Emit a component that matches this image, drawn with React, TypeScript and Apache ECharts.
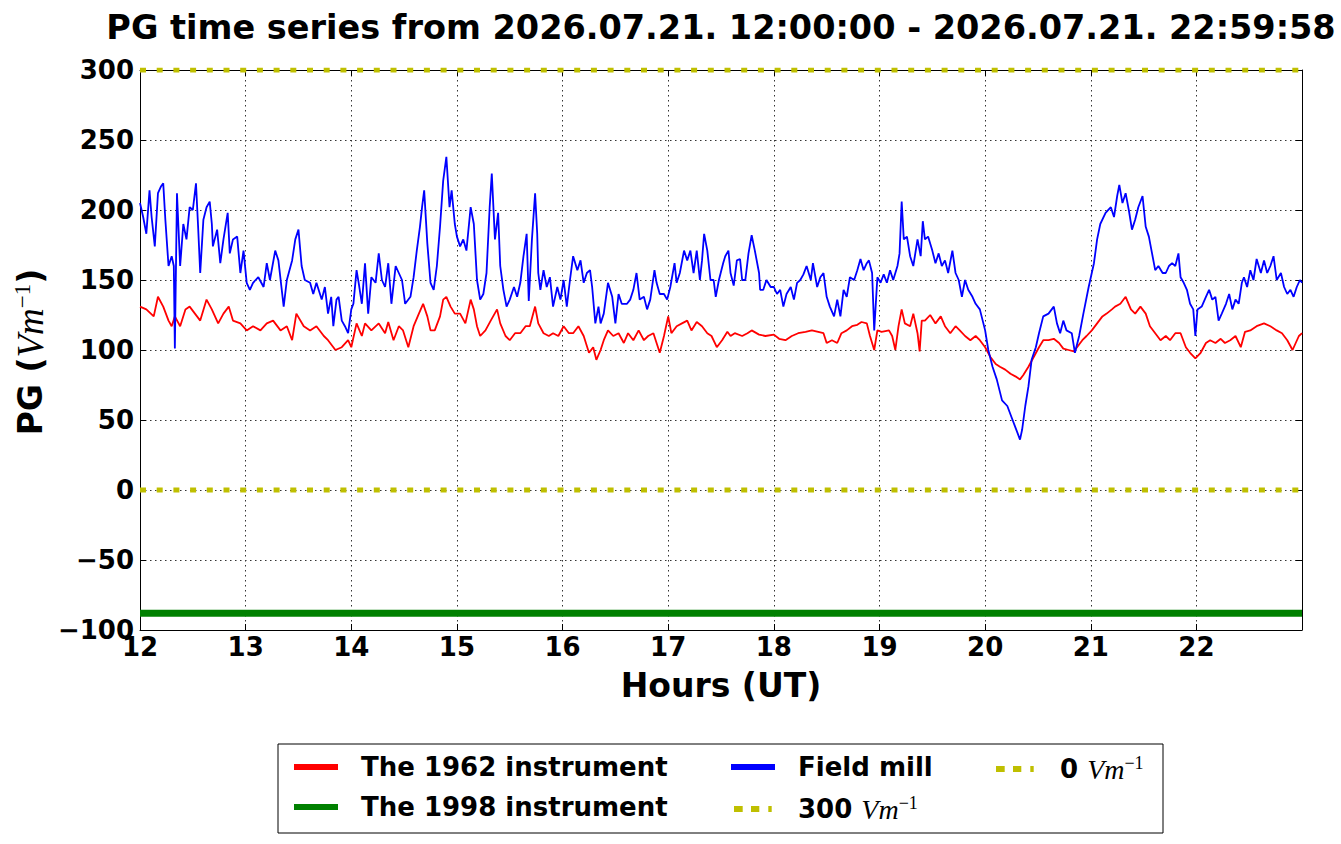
import React, { useEffect, useRef } from "react";
import * as echarts from "echarts";

// ---------- data ----------
const T_START = 12;
const T_END = 22 + 3598 / 3600; // 22:59:58
const yTicks = { min: -100, max: 300, step: 50 };
const instrument1998Level = -88;
const refLevelHigh = 300;
const refLevelZero = 0;

// The 1962 instrument: [hour UT, PG]
const instrument1962: [number, number][] = [
  [12.0, 131], [12.06, 129], [12.13, 124], [12.17, 138], [12.22, 131], [12.27, 121], [12.3, 117], [12.33, 124],
  [12.38, 117], [12.43, 129], [12.47, 131], [12.52, 126], [12.57, 121], [12.63, 136], [12.68, 129], [12.74, 119],
  [12.79, 126], [12.84, 131], [12.88, 121], [12.95, 119], [13.01, 114], [13.07, 117], [13.14, 114], [13.2, 119],
  [13.26, 121], [13.33, 114], [13.39, 117], [13.44, 107], [13.48, 126], [13.55, 117], [13.61, 114], [13.67, 117],
  [13.74, 110], [13.78, 107], [13.85, 100], [13.91, 102], [13.97, 107], [14.0, 102], [14.05, 119], [14.1, 110],
  [14.13, 119], [14.19, 114], [14.26, 119], [14.32, 112], [14.35, 120], [14.4, 107], [14.45, 117], [14.49, 114],
  [14.54, 102], [14.59, 117], [14.64, 126], [14.68, 133], [14.72, 124], [14.75, 114], [14.79, 114], [14.84, 124],
  [14.87, 136], [14.9, 138], [14.94, 131], [14.98, 126], [15.03, 126], [15.08, 119], [15.13, 136], [15.16, 129],
  [15.19, 117], [15.22, 110], [15.27, 114], [15.32, 121], [15.38, 129], [15.41, 119], [15.46, 110], [15.5, 107],
  [15.55, 112], [15.6, 112], [15.65, 117], [15.69, 117], [15.74, 131], [15.77, 119], [15.82, 112], [15.87, 110],
  [15.91, 112], [15.96, 110], [16.01, 117], [16.06, 112], [16.1, 112], [16.15, 117], [16.2, 110], [16.25, 98],
  [16.29, 102], [16.32, 93], [16.36, 100], [16.39, 107], [16.43, 114], [16.48, 110], [16.53, 112], [16.58, 105],
  [16.62, 112], [16.67, 107], [16.72, 114], [16.77, 107], [16.81, 110], [16.86, 112], [16.92, 98], [16.96, 110],
  [17.0, 124], [17.03, 112], [17.08, 117], [17.13, 119], [17.18, 121], [17.22, 114], [17.27, 120], [17.32, 117],
  [17.37, 112], [17.41, 110], [17.46, 102], [17.51, 107], [17.56, 113], [17.59, 110], [17.63, 112], [17.7, 110],
  [17.75, 112], [17.79, 114], [17.86, 111], [17.92, 110], [18.0, 111], [18.05, 108], [18.11, 107], [18.17, 110],
  [18.23, 112], [18.3, 113], [18.36, 114], [18.42, 113], [18.47, 112], [18.5, 105], [18.55, 107], [18.6, 105],
  [18.64, 112], [18.69, 114], [18.74, 117], [18.79, 118], [18.83, 120], [18.88, 119], [18.91, 110], [18.95, 100],
  [18.98, 114], [19.02, 113], [19.09, 114], [19.12, 110], [19.15, 100], [19.18, 117], [19.21, 129], [19.24, 119],
  [19.29, 117], [19.32, 126], [19.36, 112], [19.38, 99], [19.4, 121], [19.43, 121], [19.48, 125], [19.53, 119],
  [19.58, 124], [19.62, 117], [19.67, 112], [19.72, 117], [19.76, 114], [19.81, 110], [19.86, 107], [19.91, 110],
  [19.95, 107], [20.0, 102], [20.05, 95], [20.1, 90], [20.14, 88], [20.19, 86], [20.24, 83], [20.29, 81],
  [20.33, 79], [20.36, 82], [20.41, 88], [20.46, 95], [20.51, 102], [20.55, 107], [20.6, 107], [20.65, 108],
  [20.7, 105], [20.74, 101], [20.79, 100], [20.84, 99], [20.87, 102], [20.92, 107], [20.96, 110], [21.01, 114],
  [21.06, 119], [21.11, 124], [21.15, 126], [21.2, 129], [21.23, 131], [21.28, 133], [21.33, 138], [21.38, 129],
  [21.42, 126], [21.47, 131], [21.52, 126], [21.56, 117], [21.61, 112], [21.66, 107], [21.71, 110], [21.75, 107],
  [21.8, 112], [21.85, 112], [21.9, 102], [21.94, 98], [21.99, 94], [22.04, 98], [22.09, 105], [22.13, 107],
  [22.18, 105], [22.23, 108], [22.27, 105], [22.32, 107], [22.37, 110], [22.42, 102], [22.46, 113], [22.51, 114],
  [22.57, 117], [22.64, 119], [22.7, 117], [22.76, 114], [22.81, 112], [22.86, 107], [22.91, 100], [22.94, 105],
  [22.97, 110], [23.0, 112],
];

// Field mill: [hour UT, PG]
const fieldMill: [number, number][] = [
  [12.0, 205], [12.03, 195], [12.06, 183], [12.09, 214], [12.11, 195], [12.14, 174], [12.17, 212], [12.2, 217],
  [12.22, 219], [12.24, 193], [12.27, 160], [12.3, 167], [12.32, 160], [12.33, 101], [12.35, 212], [12.38, 160],
  [12.41, 190], [12.44, 179], [12.47, 202], [12.5, 200], [12.53, 219], [12.55, 188], [12.57, 155], [12.6, 193],
  [12.63, 202], [12.66, 206], [12.68, 190], [12.69, 174], [12.73, 186], [12.76, 162], [12.79, 179], [12.83, 198],
  [12.85, 169], [12.88, 179], [12.92, 181], [12.95, 155], [12.98, 171], [13.01, 148], [13.04, 143], [13.07, 148],
  [13.12, 152], [13.17, 145], [13.2, 162], [13.23, 150], [13.28, 171], [13.31, 164], [13.36, 131], [13.39, 150],
  [13.44, 164], [13.47, 179], [13.5, 186], [13.53, 160], [13.56, 150], [13.61, 148], [13.64, 140], [13.67, 148],
  [13.72, 136], [13.75, 145], [13.78, 126], [13.81, 138], [13.83, 117], [13.86, 136], [13.88, 138], [13.91, 121],
  [13.94, 117], [13.97, 112], [14.0, 129], [14.02, 133], [14.05, 157], [14.07, 148], [14.1, 133], [14.13, 162],
  [14.16, 126], [14.19, 152], [14.23, 148], [14.26, 169], [14.29, 150], [14.32, 145], [14.35, 162], [14.38, 133],
  [14.42, 160], [14.45, 155], [14.48, 150], [14.51, 133], [14.56, 138], [14.59, 152], [14.62, 171], [14.65, 188],
  [14.67, 202], [14.69, 214], [14.72, 176], [14.75, 148], [14.78, 143], [14.81, 160], [14.84, 188], [14.87, 221],
  [14.9, 238], [14.93, 202], [14.95, 214], [14.98, 190], [15.0, 181], [15.03, 174], [15.06, 179], [15.09, 171],
  [15.13, 202], [15.16, 190], [15.19, 150], [15.22, 136], [15.25, 140], [15.28, 155], [15.31, 202], [15.33, 226],
  [15.36, 179], [15.39, 198], [15.41, 160], [15.44, 143], [15.47, 131], [15.5, 136], [15.54, 145], [15.57, 138],
  [15.6, 148], [15.63, 167], [15.66, 183], [15.68, 135], [15.71, 179], [15.74, 212], [15.76, 183], [15.77, 155],
  [15.79, 143], [15.82, 157], [15.85, 145], [15.88, 152], [15.91, 131], [15.95, 145], [15.98, 136], [16.01, 150],
  [16.04, 131], [16.07, 150], [16.1, 167], [16.14, 157], [16.17, 164], [16.2, 148], [16.23, 155], [16.26, 157],
  [16.28, 145], [16.31, 119], [16.34, 131], [16.36, 119], [16.39, 126], [16.43, 148], [16.47, 138], [16.5, 119],
  [16.53, 140], [16.56, 133], [16.61, 133], [16.64, 136], [16.67, 143], [16.7, 155], [16.73, 136], [16.77, 138],
  [16.8, 129], [16.83, 136], [16.87, 157], [16.89, 148], [16.92, 140], [16.96, 140], [16.99, 136], [17.02, 145],
  [17.06, 162], [17.08, 148], [17.11, 155], [17.15, 171], [17.18, 164], [17.21, 171], [17.24, 155], [17.27, 171],
  [17.3, 150], [17.32, 164], [17.34, 183], [17.37, 171], [17.4, 150], [17.43, 150], [17.45, 138], [17.48, 150],
  [17.52, 162], [17.54, 167], [17.57, 171], [17.59, 155], [17.62, 146], [17.65, 164], [17.68, 165], [17.7, 150],
  [17.73, 150], [17.76, 169], [17.79, 182], [17.82, 171], [17.86, 155], [17.87, 143], [17.9, 143], [17.93, 150],
  [17.97, 145], [18.0, 145], [18.03, 140], [18.06, 143], [18.09, 131], [18.12, 140], [18.16, 145], [18.19, 136],
  [18.22, 148], [18.25, 150], [18.28, 154], [18.31, 160], [18.35, 150], [18.37, 162], [18.41, 145], [18.44, 152],
  [18.47, 155], [18.5, 138], [18.53, 131], [18.57, 124], [18.6, 136], [18.63, 124], [18.66, 143], [18.69, 138],
  [18.72, 152], [18.76, 150], [18.79, 157], [18.82, 165], [18.85, 157], [18.88, 162], [18.9, 164], [18.93, 155],
  [18.95, 114], [18.98, 152], [19.01, 148], [19.04, 154], [19.07, 148], [19.1, 157], [19.13, 150], [19.17, 160],
  [19.19, 169], [19.21, 206], [19.23, 179], [19.26, 181], [19.29, 167], [19.32, 160], [19.36, 179], [19.39, 167],
  [19.41, 192], [19.43, 179], [19.46, 181], [19.5, 171], [19.53, 162], [19.56, 169], [19.59, 160], [19.62, 164],
  [19.65, 155], [19.69, 171], [19.72, 155], [19.75, 150], [19.78, 138], [19.81, 150], [19.84, 143], [19.88, 138],
  [19.91, 133], [19.95, 129], [20.0, 114], [20.03, 100], [20.07, 88], [20.11, 79], [20.16, 64], [20.21, 60],
  [20.25, 52], [20.29, 44], [20.33, 36], [20.35, 43], [20.38, 60], [20.41, 74], [20.44, 93], [20.48, 102],
  [20.51, 112], [20.55, 124], [20.6, 126], [20.65, 131], [20.68, 119], [20.71, 112], [20.74, 121], [20.77, 114],
  [20.82, 112], [20.85, 98], [20.89, 110], [20.93, 126], [20.98, 145], [21.03, 162], [21.06, 179], [21.09, 190],
  [21.14, 198], [21.19, 202], [21.22, 195], [21.25, 210], [21.27, 218], [21.3, 205], [21.33, 212], [21.36, 200],
  [21.39, 186], [21.42, 193], [21.45, 202], [21.49, 210], [21.52, 188], [21.55, 181], [21.58, 169], [21.61, 157],
  [21.64, 160], [21.68, 155], [21.71, 155], [21.74, 160], [21.77, 162], [21.8, 160], [21.83, 169], [21.85, 152],
  [21.88, 148], [21.91, 143], [21.94, 133], [21.97, 129], [21.99, 110], [22.01, 129], [22.05, 131], [22.09, 138],
  [22.12, 143], [22.15, 136], [22.18, 138], [22.21, 121], [22.24, 126], [22.28, 133], [22.31, 140], [22.34, 129],
  [22.37, 136], [22.4, 133], [22.43, 148], [22.45, 152], [22.48, 145], [22.51, 157], [22.54, 150], [22.57, 165],
  [22.61, 155], [22.64, 164], [22.67, 155], [22.7, 160], [22.73, 167], [22.76, 150], [22.8, 155], [22.83, 145],
  [22.86, 140], [22.89, 143], [22.92, 138], [22.95, 145], [22.98, 150], [23.0, 148],
];

const SERIES_NAMES = {
  s1962: "The 1962 instrument",
  s1998: "The 1998 instrument",
  mill: "Field mill",
  high: "300",
  zero: "0",
};

// ---------- styles ----------
const SANS = "DejaVu Sans";
const MATH = "Liberation Serif";
const YELLOW = "#bfbf00";

// legend icons (44 x 6 box): solid bar and matplotlib-like dotted bar
const ICON_SOLID = "path://M0,0H44V6H0Z";
const ICON_DOTTED =
  "path://M0,0H0.02V6H0Z M3,0H11.7V6H3Z M20,0H28.3V6H20Z M37.3,0H40.7V6H37.3Z M43.98,0H44V6H43.98Z";

const legendRich = {
  b: { fontFamily: SANS, fontWeight: "bold" as const, fontSize: 26, color: "#000", lineHeight: 30 },
  i: { fontFamily: MATH, fontStyle: "italic" as const, fontWeight: "normal" as const, fontSize: 28, color: "#000", lineHeight: 30 },
  s: { fontFamily: MATH, fontWeight: "normal" as const, fontSize: 18, color: "#000", verticalAlign: "top" as const, lineHeight: 18 },
};

function legendFormatter(name: string) {
  if (name === SERIES_NAMES.high || name === SERIES_NAMES.zero) {
    return `{b|${name} }{i|Vm}{s|\u22121}`;
  }
  return `{b|${name}}`;
}

function makeLegend(left: number, items: { name: string; icon: string }[]) {
  return {
    orient: "vertical" as const,
    left,
    top: 749,
    itemWidth: 44,
    itemHeight: 6,
    itemGap: 14,
    selectedMode: false,
    data: items,
    formatter: legendFormatter,
    textStyle: {
      fontFamily: SANS,
      fontWeight: "bold" as const,
      fontSize: 26,
      color: "#000",
      padding: [0, 0, 0, 18],
      rich: legendRich,
    },
  };
}

const tickFont = { fontFamily: SANS, fontWeight: "bold" as const, fontSize: 26, color: "#000" };

export default function App() {
  const ref = useRef<HTMLDivElement>(null);

  useEffect(() => {
    if (!ref.current) return;
    const chart = echarts.init(ref.current, null, { renderer: "svg" });

    const gridLine = { show: true, lineStyle: { color: "#333", width: 1, type: [1.5, 3.5] as number[] } };
    const axisLine = { show: true, onZero: false, lineStyle: { color: "#000", width: 1 } };
    const axisTick = { show: true, inside: true, length: 6, lineStyle: { color: "#000", width: 1 } };

    const option = {
      animation: false,
      backgroundColor: "#fff",
      grid: { left: 140, top: 70, width: 1162, height: 560, containLabel: false },
      xAxis: [
        {
          type: "value",
          position: "bottom",
          min: T_START,
          max: T_END,
          interval: 1,
          axisLine,
          axisTick,
          axisLabel: {
            ...tickFont,
            margin: 4,
            showMaxLabel: false,
            formatter: (v: number) => (Math.abs(v - Math.round(v)) < 1e-6 ? String(Math.round(v)) : ""),
          },
          splitLine: gridLine,
          name: "Hours (UT)",
          nameLocation: "middle",
          nameGap: 39,
          nameTextStyle: { fontFamily: SANS, fontWeight: "bold", fontSize: 33, color: "#000" },
        },
        {
          type: "value",
          position: "top",
          min: T_START,
          max: T_END,
          interval: 1,
          axisLine,
          axisTick,
          axisLabel: { show: false },
          splitLine: { show: false },
        },
      ],
      yAxis: [
        {
          type: "value",
          position: "left",
          min: yTicks.min,
          max: yTicks.max,
          interval: yTicks.step,
          axisLine,
          axisTick,
          axisLabel: {
            ...tickFont,
            margin: 6,
            formatter: (v: number) => (v < 0 ? "\u2212" + Math.abs(v) : String(v)),
          },
          splitLine: gridLine,
        },
        {
          type: "value",
          position: "right",
          min: yTicks.min,
          max: yTicks.max,
          interval: yTicks.step,
          axisLine,
          axisTick,
          axisLabel: { show: false },
          splitLine: { show: false },
        },
      ],
      legend: [
        makeLegend(289, [
          { name: SERIES_NAMES.s1962, icon: ICON_SOLID },
          { name: SERIES_NAMES.s1998, icon: ICON_SOLID },
        ]),
        makeLegend(726, [
          { name: SERIES_NAMES.mill, icon: ICON_SOLID },
          { name: SERIES_NAMES.high, icon: ICON_DOTTED },
        ]),
        makeLegend(988, [{ name: SERIES_NAMES.zero, icon: ICON_DOTTED }]),
      ],
      series: [
        {
          name: SERIES_NAMES.s1962,
          type: "line",
          data: instrument1962,
          symbol: "none",
          color: "#ff0000",
          lineStyle: { color: "#ff0000", width: 1.8 },
          z: 2,
        },
        {
          name: SERIES_NAMES.s1998,
          type: "line",
          data: [
            [T_START, instrument1998Level],
            [T_END, instrument1998Level],
          ],
          symbol: "none",
          color: "#008000",
          lineStyle: { color: "#008000", width: 7 },
          z: 3,
        },
        {
          name: SERIES_NAMES.mill,
          type: "line",
          data: fieldMill,
          symbol: "none",
          color: "#0000ff",
          lineStyle: { color: "#0000ff", width: 1.8 },
          z: 4,
        },
        {
          name: SERIES_NAMES.high,
          type: "line",
          data: [
            [T_START, refLevelHigh],
            [T_END, refLevelHigh],
          ],
          symbol: "none",
          color: YELLOW,
          lineStyle: { color: YELLOW, width: 5, type: [6, 10.7] },
          z: 5,
        },
        {
          name: SERIES_NAMES.zero,
          type: "line",
          data: [
            [T_START, refLevelZero],
            [T_END, refLevelZero],
          ],
          symbol: "none",
          color: YELLOW,
          lineStyle: { color: YELLOW, width: 5, type: [6, 10.7] },
          z: 5,
        },
      ],
      graphic: [
        {
          type: "text",
          x: 721,
          y: 27,
          style: {
            text: "PG time series from 2026.07.21. 12:00:00 - 2026.07.21. 22:59:58",
            font: `bold 33.5px '${SANS}'`,
            fill: "#000",
            align: "center",
            verticalAlign: "middle",
          },
        },
        {
          type: "text",
          x: 30,
          y: 352,
          rotation: Math.PI / 2,
          style: {
            text: "{b|PG (}{i|Vm}{s|\u22121}{b|)}",
            align: "center",
            verticalAlign: "middle",
            rich: {
              b: { fontFamily: SANS, fontWeight: "bold", fontSize: 33, fill: "#000", lineHeight: 38 },
              i: { fontFamily: MATH, fontStyle: "italic", fontSize: 37, fill: "#000", lineHeight: 38 },
              s: { fontFamily: MATH, fontSize: 23, fill: "#000", verticalAlign: "top", lineHeight: 22 },
            },
          },
        },
        {
          type: "rect",
          shape: { x: 278, y: 744, width: 885, height: 89 },
          style: { fill: "none", stroke: "#000", lineWidth: 1 },
          z: -1,
        },
      ],
    };

    chart.setOption(option as any);
    return () => chart.dispose();
  }, []);

  return (
    <div
      ref={ref}
      style={{ position: "absolute", left: 0, top: 0, width: 1341, height: 844, background: "#fff" }}
    />
  );
}
